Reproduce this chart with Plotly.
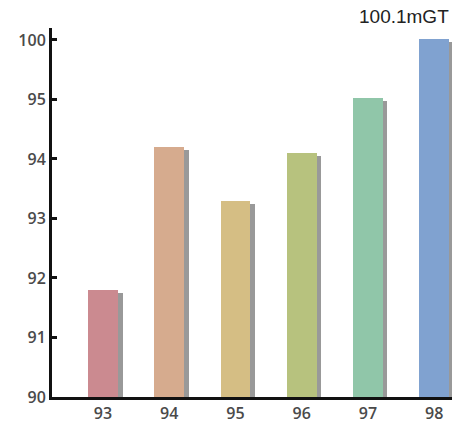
import plotly.graph_objects as go

years = ["93", "94", "95", "96", "97", "98"]
values = [91.8, 94.2, 93.3, 94.1, 95.1, 100.1]
colors = ["#cb8a90", "#d6ab8e", "#d5be84", "#b7c27e", "#90c6a9", "#80a2d0"]
tick_values = [90, 91, 92, 93, 94, 95, 100]
label_text = "100.1mGT"


def to_axis(v):
    # broken axis: 90..95 at unit spacing, 95..100 compressed to one step
    return v - 90 if v <= 95 else 5 + (v - 95) / 5


xs = list(range(len(years)))
heights = [to_axis(v) for v in values]

tick_font = dict(family="Open Sans, DejaVu Sans", size=16, color="#4a4a4a", weight=600)

fig = go.Figure()
# soft shadow behind bars
fig.add_trace(go.Bar(
    x=[x + 0.07 for x in xs], y=[h - 0.05 for h in heights], width=0.45,
    marker=dict(color="rgba(70,70,70,0.55)", line=dict(width=0)),
    hoverinfo="skip", showlegend=False,
))
fig.add_trace(go.Bar(
    x=xs, y=heights, width=0.45,
    marker=dict(color=colors, line=dict(width=0)),
    customdata=values, hovertemplate="%{customdata}<extra></extra>",
    showlegend=False,
))

fig.add_annotation(
    text=label_text, xref="paper", yref="paper", x=1.0, y=1.0,
    xanchor="right", yanchor="middle", xshift=-1, yshift=12, showarrow=False,
    font=dict(family="Liberation Sans, Arial", size=19, color="#222222"),
)

fig.update_layout(
    width=460, height=428,
    margin=dict(l=52, r=8, t=28, b=31),
    paper_bgcolor="white", plot_bgcolor="white",
    barmode="overlay", bargap=0,
    xaxis=dict(
        range=[-0.77, 5.27], tickmode="array", tickvals=xs, ticktext=years,
        showgrid=False, zeroline=False, showline=True, linecolor="#111111",
        linewidth=3, ticks="", tickfont=tick_font, automargin=False,
    ),
    yaxis=dict(
        range=[0, 6.2], tickmode="array", tickvals=[to_axis(v) for v in tick_values],
        ticktext=[str(v) for v in tick_values], showgrid=False, zeroline=False,
        showline=True, linecolor="#111111", linewidth=3, ticks="inside",
        ticklen=5, tickwidth=3, tickcolor="#111111", tickfont=tick_font,
        automargin=False,
    ),
)

fig.write_html(
    "out.html",
    config={"displayModeBar": False},
    post_script="document.body.style.margin='0';document.body.style.overflow='hidden';",
)
